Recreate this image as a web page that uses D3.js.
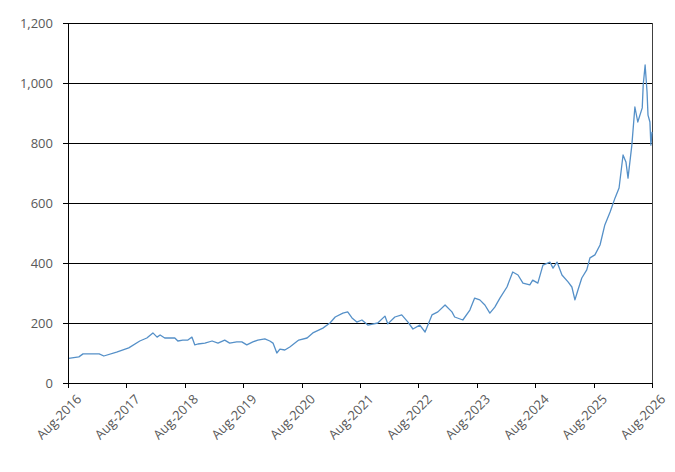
<!DOCTYPE html>
<html>
<head>
<meta charset="utf-8">
<script src="https://cdn.jsdelivr.net/npm/d3@7"></script>
<style>
  body { margin: 0; background: #fff; }
  svg text { font-family: "Open Sans", sans-serif; fill: #595959; }
</style>
</head>
<body>
<script>
// dates and values
const dates = [
  "2016-08-05","2016-10-08","2016-11-03","2017-02-12","2017-03-13","2017-06-01","2017-08-16",
  "2017-10-24","2017-12-07","2018-01-14","2018-02-09","2018-02-28","2018-03-29","2018-04-29",
  "2018-05-31","2018-06-19","2018-07-20","2018-08-21","2018-09-15","2018-10-03","2018-10-22",
  "2018-12-05","2019-01-19","2019-02-25","2019-04-08","2019-05-09","2019-06-22","2019-07-24",
  "2019-08-24","2019-10-01","2019-11-01","2019-12-15","2020-01-15","2020-02-04","2020-02-28",
  "2020-03-18","2020-04-18","2020-05-19","2020-06-20","2020-07-14",
  "2020-09-04","2020-10-10","2020-12-12","2021-01-25","2021-02-27",
  "2021-04-16","2021-05-16","2021-06-12","2021-07-12","2021-08-13","2021-09-19","2021-11-20",
  "2022-01-04","2022-01-22","2022-03-07","2022-04-19","2022-05-28","2022-06-28","2022-08-10",
  "2022-09-12","2022-10-25","2022-12-01","2023-01-15","2023-02-27","2023-03-16","2023-05-06",
  "2023-06-19","2023-07-19","2023-08-20","2023-09-21","2023-10-22","2023-11-22","2023-12-24",
  "2024-02-06","2024-03-13","2024-04-15","2024-05-16","2024-06-28","2024-07-16","2024-08-17",
  "2024-09-18","2024-11-01","2024-11-20","2024-12-15","2025-01-15","2025-02-22","2025-03-18",
  "2025-04-06","2025-04-25","2025-05-19","2025-06-19","2025-07-09","2025-08-09","2025-09-10",
  "2025-10-10","2025-11-12","2025-12-13","2026-01-07","2026-02-01","2026-02-19","2026-03-04",
  "2026-03-28","2026-04-16","2026-05-04","2026-06-01","2026-06-07","2026-06-19","2026-07-01",
  "2026-07-07","2026-07-19","2026-07-25","2026-08-01"
]
const values = [
  82, 87, 97, 97, 90, 103, 117,
  140, 150, 167, 153, 160, 150, 150,
  150, 140, 143, 143, 153, 127, 130,
  133, 140, 133, 143, 133, 137, 137,
  127, 137, 143, 147, 140, 133, 100,
  113, 110, 120, 133, 143,
  150, 167, 183, 200, 220,
  233, 237, 217, 203, 210, 193, 200,
  223, 197, 220, 227, 203, 180, 193,
  170, 227, 237, 260, 237, 220, 210,
  243, 283, 277, 260, 233, 253, 283,
  320, 370, 360, 333, 327, 343, 333,
  393, 403, 383, 403, 360, 337, 320,
  277, 310, 350, 377, 417, 427, 460,
  527, 570, 617, 650, 760, 737, 683,
  793, 920, 870, 917, 993, 1060, 970,
  893, 870, 793, 837
]
const yTicks = [0, 200, 400, 600, 800, 1000, 1200]
const xTickYears = [2016, 2017, 2018, 2019, 2020, 2021, 2022, 2023, 2024, 2025, 2026]

const w = 675
const h = 472
const padL = 68, padR = 652, padT = 23, padB = 383

const parse = d3.timeParse("%Y-%m-%d")
const dataset = dates.map((d, i) => ({ date: parse(d), value: values[i] }))

const svg = d3.select("body")
  .append("svg")
  .attr("width", w)
  .attr("height", h)

const xScale = d3.scaleTime()
  .domain([new Date(2016, 7, 1), new Date(2026, 7, 1)])
  .range([padL, padR])
const yScale = d3.scaleLinear()
  .domain([0, 1200])
  .range([padB, padT])

// horizontal gridlines
svg.append("g")
  .selectAll("line")
  .data(yTicks.filter(d => d > 0))
  .enter()
  .append("line")
  .attr("x1", padL)
  .attr("x2", padR)
  .attr("y1", d => yScale(d))
  .attr("y2", d => yScale(d))
  .attr("stroke", "#000")
  .attr("stroke-width", 1)
  .attr("shape-rendering", "crispEdges")

// right border
svg.append("line")
  .attr("x1", padR).attr("x2", padR)
  .attr("y1", padT).attr("y2", padB)
  .attr("stroke", "#404040")
  .attr("stroke-width", 1)
  .attr("shape-rendering", "crispEdges")

const line = d3.line()
  .x(d => xScale(d.date))
  .y(d => yScale(d.value))

svg.append("path")
  .datum(dataset)
  .attr("fill", "none")
  .attr("stroke", "#5590c8")
  .attr("stroke-width", 1.3)
  .attr("stroke-linejoin", "round")
  .attr("d", line)

const yAxis = d3.axisLeft(yScale)
  .tickValues(yTicks)
  .tickFormat(d3.format(","))
  .tickSize(5)
  .tickSizeOuter(0)
  .tickPadding(10)

svg.append("g")
  .attr("transform", "translate(" + padL + ",0)")
  .call(yAxis)
  .call(g => g.selectAll("line, path").attr("stroke", "#000").attr("stroke-width", 1).attr("shape-rendering", "crispEdges"))
  .call(g => g.selectAll("text").style("font-size", "13px").attr("fill", "#595959"))

const xAxis = d3.axisBottom(xScale)
  .tickValues(xTickYears.map(y => new Date(y, 7, 1)))
  .tickFormat(d3.timeFormat("%b-%Y"))
  .tickSize(5)
  .tickSizeOuter(0)

svg.append("g")
  .attr("transform", "translate(0," + padB + ")")
  .call(xAxis)
  .call(g => g.selectAll("line, path").attr("stroke", "#000").attr("stroke-width", 1).attr("shape-rendering", "crispEdges"))
  .call(g => g.selectAll("text")
    .style("font-size", "13px")
    .attr("fill", "#595959")
    .attr("text-anchor", "end")
    .attr("dy", "0.35em")
    .attr("transform", "translate(5,8) rotate(-45)"))
</script>
</body>
</html>
